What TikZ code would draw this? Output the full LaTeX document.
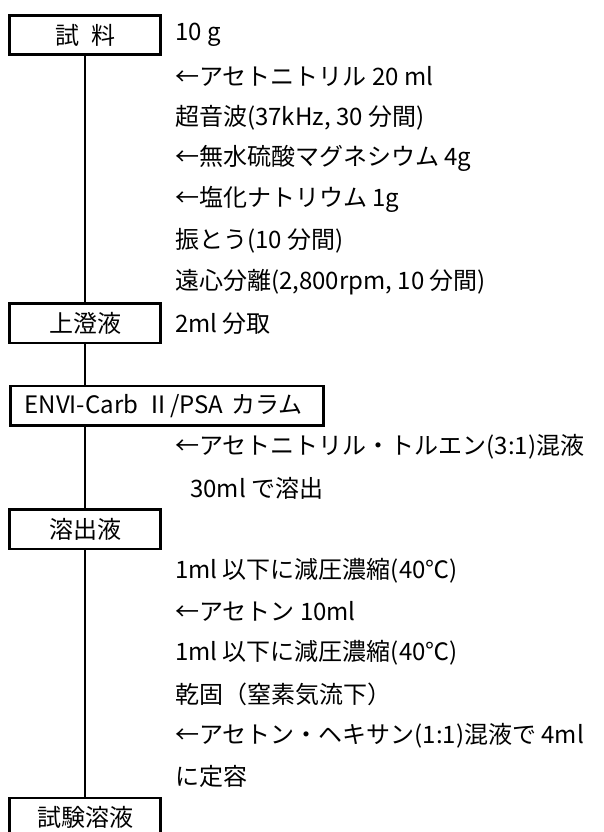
\documentclass[tikz,border=0pt]{standalone}
\usepackage{fontspec}
\setmainfont{Noto Sans CJK JP}
\usetikzlibrary{calc}

\begin{document}
\begin{tikzpicture}[x=1pt,y=1pt,
  font=\fontsize{24}{28}\selectfont,
  stepbox/.style={draw,line width=2.6pt,minimum width=151.5pt,minimum height=39.5pt,inner sep=0pt},
  note/.style={anchor=west,inner sep=0pt},
  flowline/.style={line width=2.6pt}]
\useasboundingbox (0,0) rectangle (603,-832);
\fill[color=white] (0,0) rectangle (603,-832);
% boxes on the main line
\node[stepbox] (sample) at (85,-35) {試\hspace{0.5em}料};
\node[stepbox] (super) at (85,-323.4) {上澄液};
\node[stepbox,anchor=west,minimum width=0pt,text width=285pt,inner xsep=14pt,align=left] (column) at (9.3,-405.8) {ENVI-Carb Ⅱ/PSA カラム};
\node[stepbox] (eluate) at (85,-529.4) {溶出液};
\node[stepbox] (testsol) at (85,-817.8) {試験溶液};
% main line
\draw[flowline] (sample.south) -- (super.north);
\draw[flowline] (super.south) -- (super.south |- column.north);
\draw[flowline] (column.south -| eluate.north) -- (eluate.north);
\draw[flowline] (eluate.south) -- (testsol.north);
% notes beside the line
\node[note] (n1) at (175,-35) {10 g};
\node[note] (n2) at (175,-76.2) {←アセトニトリル 20 ml};
\node[note] (n3) at (175,-117.4) {超音波(37kHz, 30 分間)};
\node[note] (n4) at (175,-158.6) {←無水硫酸マグネシウム 4g};
\node[note] (n5) at (175,-199.8) {←塩化ナトリウム 1g};
\node[note] (n6) at (175,-241) {振とう(10 分間)};
\node[note] (n7) at (175,-282.2) {遠心分離(2,800rpm, 10 分間)};
\node[note] (n8) at (175,-323.4) {2ml 分取};
\node[note] (n9) at (175,-447) {←アセトニトリル・トルエン(3:1)混液};
\node[note] (n10) at (190,-488.2) {30ml で溶出};
\node[note] (n11) at (175,-570.6) {1ml 以下に減圧濃縮(40℃)};
\node[note] (n12) at (175,-611.8) {←アセトン 10ml};
\node[note] (n13) at (175,-653) {1ml 以下に減圧濃縮(40℃)};
\node[note] (n14) at (175,-694.2) {乾固（窒素気流下）};
\node[note] (n15) at (175,-735.4) {←アセトン・ヘキサン(1:1)混液で 4ml};
\node[note] (n16) at (175,-776.6) {に定容};
\end{tikzpicture}
\end{document}
